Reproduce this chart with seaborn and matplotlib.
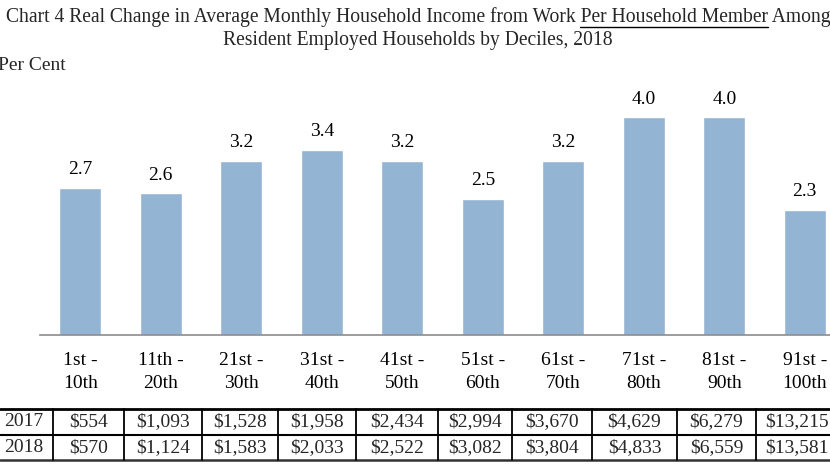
import matplotlib
matplotlib.use("Agg")
import matplotlib.pyplot as plt
import seaborn as sns
import pandas as pd
import numpy as np
from matplotlib.lines import Line2D

categories = ["1st -\n10th", "11th -\n20th", "21st -\n30th", "31st -\n40th", "41st -\n50th",
              "51st -\n60th", "61st -\n70th", "71st -\n80th", "81st -\n90th", "91st -\n100th"]
real_change = [2.7, 2.6, 3.2, 3.4, 3.2, 2.5, 3.2, 4.0, 4.0, 2.3]
table_years = ["2017", "2018"]
income_2017 = ["$554", "$1,093", "$1,528", "$1,958", "$2,434", "$2,994", "$3,670", "$4,629", "$6,279", "$13,215"]
income_2018 = ["$570", "$1,124", "$1,583", "$2,033", "$2,522", "$3,082", "$3,804", "$4,833", "$6,559", "$13,581"]

sns.set_theme(style="white")
plt.rcParams["font.family"] = ["Liberation Serif", "DejaVu Serif"]

W, H = 830, 468
fig = plt.figure(figsize=(W / 100, H / 100), dpi=100)

def fx(px):
    return px / W

def fy(py):
    return 1 - py / H

# axes: x -0.5..9.5 -> 40..845 px ; y 0..4.5 -> 335..90 px
ax = fig.add_axes([fx(40), fy(335), 805 / W, 245 / H])
df = pd.DataFrame({"cat": categories, "val": real_change})
sns.barplot(data=df, x="cat", y="val", ax=ax, color="#94b4d4", saturation=1, width=0.52)
ax.set_xlim(-0.5, 9.5)
ax.set_ylim(0, 4.5)
ax.set_xlabel("")
ax.set_ylabel("")
ax.set_yticks([])
for s in ["top", "right", "left"]:
    ax.spines[s].set_visible(False)
ax.spines["bottom"].set_color("#8c8c8c")
ax.spines["bottom"].set_linewidth(1.2)
ax.set_xticks(range(len(categories)))
ax.set_xticklabels(categories, fontsize=14, linespacing=1.45)
ax.tick_params(axis="x", which="major", length=0, pad=12, colors="black")
ax.set_xticks(np.arange(-0.5, 10, 1), minor=True)
ax.tick_params(axis="x", which="minor", length=5, width=1.2, color="#8c8c8c", direction="out")
ax.set_facecolor("white")

for i, v in enumerate(real_change):
    ax.annotate(f"{v:.1f}", (i, v), xytext=(0, 7), textcoords="offset points",
                ha="center", va="bottom", fontsize=14, color="black")

# title with underline
fs_title = 14.1
prefix = "Chart 4 Real Change in Average Monthly Household Income from Work "
under = "Per Household Member"
suffix = " Among"
full = prefix + under + suffix
cx = fx(418)
t1 = fig.text(cx, fy(17), full, ha="center", va="center", fontsize=fs_title)
fig.text(cx, fy(40), "Resident Employed Households by Deciles, 2018", ha="center", va="center", fontsize=fs_title)
fig.text(fx(-2), fy(65), "Per Cent", ha="left", va="center", fontsize=14)

renderer = fig.canvas.get_renderer()
def width_of(s):
    t = fig.text(0, 0, s, fontsize=fs_title)
    w = t.get_window_extent(renderer).width
    t.remove()
    return w
bb = t1.get_window_extent(renderer)
w_p = width_of(prefix + "P") - width_of("P")
w_pu = width_of(prefix + under)
x0 = bb.x0 + w_p
x1 = bb.x0 + w_pu
fig.add_artist(Line2D([x0 / W, x1 / W], [fy(27), fy(27)], transform=fig.transFigure,
                      color="black", lw=1.0))

# table
col_edges = [0, 53, 124, 202, 278, 356, 438, 512, 592, 677, 756, 850]
row_lines = [409, 434.5, 460]
lws = [2.0, 1.5, 1.8]
cols = ["black", "black", "#333333"]
for y, lw, c in zip(row_lines, lws, cols):
    fig.add_artist(Line2D([0, 1], [fy(y), fy(y)], transform=fig.transFigure, color=c, lw=lw))
for xe in col_edges[1:-1]:
    fig.add_artist(Line2D([fx(xe), fx(xe)], [fy(409), fy(460)], transform=fig.transFigure,
                          color="black", lw=1.3))
rows = [income_2017, income_2018]
row_centers = [422, 448]
for r, (yr, vals) in enumerate(zip(table_years, rows)):
    fig.text(fx(24), fy(row_centers[r]), yr, ha="center", va="center", fontsize=14)
    for j, v in enumerate(vals):
        c = (col_edges[j + 1] + col_edges[j + 2]) / 2
        if j == len(vals) - 1:
            c = 797
        fig.text(fx(c), fy(row_centers[r]), v, ha="center", va="center", fontsize=14)

fig.savefig("out.png", dpi=100, facecolor="white")
